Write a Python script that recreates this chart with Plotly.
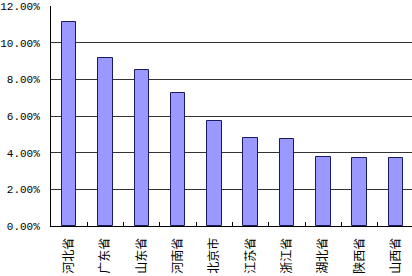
import plotly.graph_objects as go

provinces = ["河北省", "广东省", "山东省", "河南省", "北京市", "江苏省", "浙江省", "湖北省", "陕西省", "山西省"]
shares = [0.1111, 0.0915, 0.0849, 0.0724, 0.0573, 0.0478, 0.0475, 0.0375, 0.0371, 0.0371]
y_ticks = [0, 0.02, 0.04, 0.06, 0.08, 0.10, 0.12]
y_tick_text = ["0.00%", "2.00%", "4.00%", "6.00%", "8.00%", "10.00%", "12.00%"]

fig = go.Figure(go.Bar(
    x=provinces, y=shares, width=0.4,
    marker=dict(color="#9999FF", line=dict(color="#1a1a5e", width=1)),
))

fig.update_layout(
    width=412, height=276,
    margin=dict(l=48, r=0, t=6, b=50),
    paper_bgcolor="white", plot_bgcolor="white",
    showlegend=False,
    bargap=0,
)
fig.update_xaxes(
    type="category",
    range=[-0.5, 9.44],
    showline=True, linecolor="black", linewidth=1,
    ticks="inside", tickson="boundaries", ticklen=4, tickcolor="black",
    tickangle=-90,
    tickfont=dict(family="Noto Sans CJK SC", size=12, color="black"),
    ticklabelstandoff=6,
    showgrid=False,
)
fig.update_yaxes(
    range=[0, 0.12],
    tickvals=y_ticks, ticktext=y_tick_text,
    showline=True, linecolor="black", linewidth=1,
    showgrid=True, gridcolor="#333333", gridwidth=1,
    zeroline=False,
    ticks="", ticklabelstandoff=8,
    tickfont=dict(family="Liberation Mono", size=11, color="black"),
)
fig.write_html("out.html")
